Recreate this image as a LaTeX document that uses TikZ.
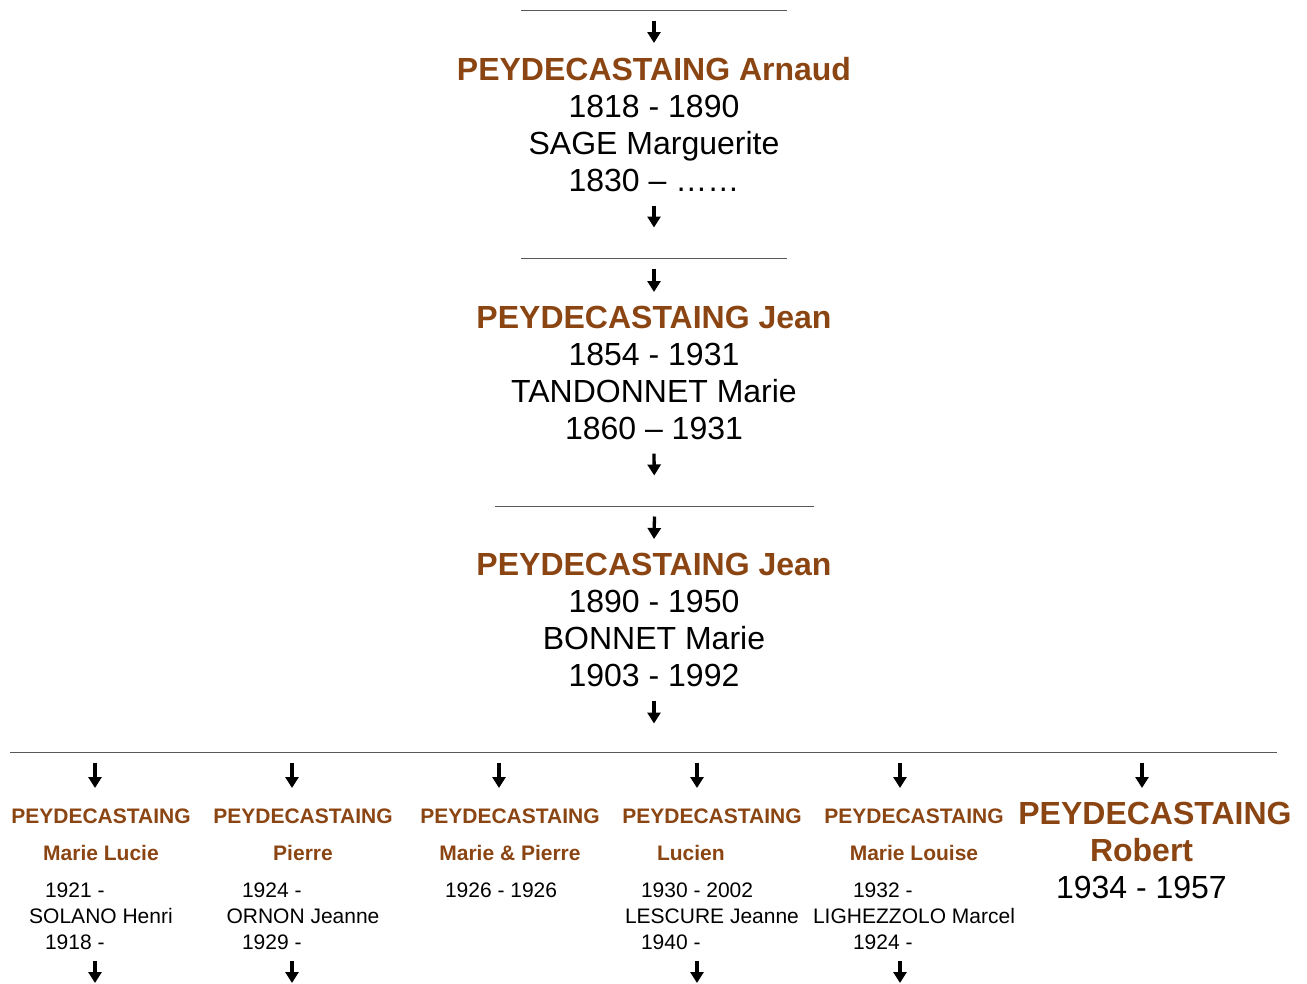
\documentclass[tikz,border=0pt]{standalone}
\usepackage{fontspec}
\setmainfont{Liberation Sans}
\usetikzlibrary{arrows.meta}
\definecolor{peybrown}{RGB}{139,69,19}
\newcommand{\pname}[1]{\textcolor{peybrown}{\textbf{#1}}}
\newcommand{\lft}[2]{\makebox[#1][l]{#2}}
\tikzset{
  big/.style={align=center, inner sep=0pt, outer ysep=14pt, font=\fontsize{32}{37}\selectfont},
  small/.style={align=center, inner sep=0pt, outer ysep=11pt, font=\fontsize{21}{26}\selectfont},
  rulebar/.style={fill=black!65, inner sep=0pt, minimum height=1pt, outer ysep=10pt},
  arr/.style={-{Triangle[width=13pt,length=11pt]}, line width=3.3pt},
}
\begin{document}
\begin{tikzpicture}[x=1pt, y=-1pt]
    \useasboundingbox (0,0) rectangle (1307,983);
    \coordinate (bottom) at (0,983);

    \node[rulebar, minimum width=266pt] (r1) at (654,10) {};
    \node[big, anchor=north] (arnaud) at (654,43) {\pname{PEYDECASTAING Arnaud}\\
        1818 - 1890\\
        SAGE Marguerite\\
        1830 – ……};

    \node[rulebar, minimum width=266pt] (r2) at (654,258) {};
    \node[big, anchor=north] (jean1) at (654,292) {\pname{PEYDECASTAING Jean}\\
        1854 - 1931\\
        TANDONNET Marie\\
        1860 – 1931};

    \node[rulebar, minimum width=319pt] (r3) at (654.5,506) {};
    \node[big, anchor=north] (jean2) at (654,539) {\pname{PEYDECASTAING Jean}\\
        1890 - 1950\\
        BONNET Marie\\
        1903 - 1992};

    \node[rulebar, minimum width=1267pt] (r4) at (643.5,752) {};

    % children
    \node[small, anchor=north] (lucie) at (101,798) {\pname{PEYDECASTAING}\\[11pt]
        \pname{Marie Lucie}\\[11pt]
        \lft{112pt}{1921 -}\\
        SOLANO Henri\\
        \lft{112pt}{1918 -}};
    \node[small, anchor=north] (pierre) at (303,798) {\pname{PEYDECASTAING}\\[11pt]
        \pname{Pierre}\\[11pt]
        \lft{122pt}{1924 -}\\
        ORNON Jeanne\\
        \lft{122pt}{1929 -}};
    \node[small, anchor=north] (mp) at (510,798) {\pname{PEYDECASTAING}\\[11pt]
        \pname{Marie \& Pierre}\\[11pt]
        \lft{130pt}{1926 - 1926}};
    \node[small, anchor=north] (lucien) at (712,798) {\pname{PEYDECASTAING}\\[11pt]
        \lft{110pt}{\pname{Lucien}}\\[11pt]
        \lft{142pt}{1930 - 2002}\\
        LESCURE Jeanne\\
        \lft{142pt}{1940 -}};
    \node[small, anchor=north] (louise) at (914,798) {\pname{PEYDECASTAING}\\[11pt]
        \pname{Marie Louise}\\[11pt]
        \lft{122pt}{1932 -}\\
        LIGHEZZOLO Marcel\\
        \lft{122pt}{1924 -}};
    \node[big, outer ysep=11pt, anchor=north] (robert) at (1155,791) {\pname{PEYDECASTAING}\\
        \lft{130pt}{\pname{Robert}}\\
        \lft{198pt}{1934 - 1957}};

\draw [arr] (r1.south) -- (arnaud.north);
\draw [arr, shorten >=20pt] (arnaud.south) -- (r2.north);
\draw [arr] (r2.south) -- (jean1.north);
\draw [arr, shorten >=20pt] (jean1.south) -- (r3.north);
\draw [arr] (r3.south) -- (jean2.north);
\draw [arr, shorten >=18pt] (jean2.south) -- (jean2.south |- r4.north);

\draw [arr, shorten >=10pt] ([xshift=-6pt]lucie.north |- r4.south) -- ([xshift=-6pt]lucie.north);
\draw [arr, shorten >=10pt] ([xshift=-11pt]pierre.north |- r4.south) -- ([xshift=-11pt]pierre.north);
\draw [arr, shorten >=10pt] ([xshift=-11pt]mp.north |- r4.south) -- ([xshift=-11pt]mp.north);
\draw [arr, shorten >=10pt] ([xshift=-15pt]lucien.north |- r4.south) -- ([xshift=-15pt]lucien.north);
\draw [arr, shorten >=10pt] ([xshift=-14pt]louise.north |- r4.south) -- ([xshift=-14pt]louise.north);
\draw [arr, shorten >=3pt] ([xshift=-13pt]robert.north |- r4.south) -- ([xshift=-13pt]robert.north);

\draw [arr] ([xshift=-6pt]lucie.south) -- ([xshift=-6pt]lucie.south |- bottom);
\draw [arr] ([xshift=-11pt]pierre.south) -- ([xshift=-11pt]pierre.south |- bottom);
\draw [arr] ([xshift=-15pt]lucien.south) -- ([xshift=-15pt]lucien.south |- bottom);
\draw [arr] ([xshift=-14pt]louise.south) -- ([xshift=-14pt]louise.south |- bottom);
\end{tikzpicture}
\end{document}
